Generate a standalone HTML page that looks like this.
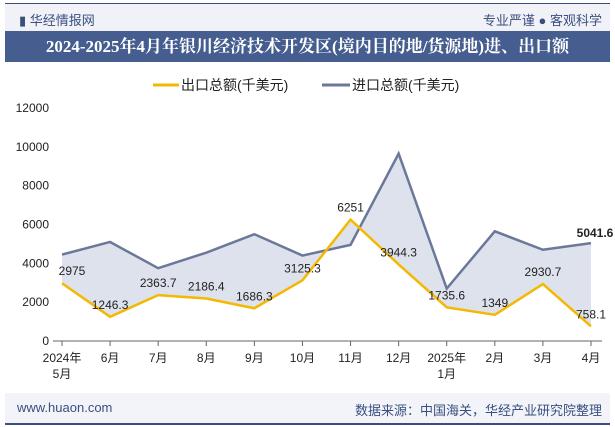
<!DOCTYPE html>
<html><head><meta charset="utf-8"><style>
body{margin:0;width:615px;height:427px;background:#fff;font-family:"Liberation Sans","Noto Sans CJK SC",sans-serif;position:relative;overflow:hidden}
.top{position:absolute;left:5px;top:3px;width:605px;height:28px;background:#f0f2f7;border-top:1px solid #3a4f80}
.title{position:absolute;left:5px;top:31px;width:605px;height:31px;background:#455d8f;color:#fff;font-weight:bold;font-size:17px;line-height:31px;text-align:center;font-family:"Liberation Serif","Noto Serif CJK SC",serif}
.foot{position:absolute;left:5px;top:393px;width:605px;height:30px;background:#f2f4f9;border-bottom:2px solid #3a4f80}
</style></head><body>
<div class="top">
<span style="position:absolute;left:14px;top:6px;font-size:13px;color:#3a4f80">▮ 华经情报网</span>
<span style="position:absolute;right:8px;top:6px;font-size:13px;color:#3a4f80">专业严谨 ● 客观科学</span></div>
<div class="title">2024-2025年4月年银川经济技术开发区(境内目的地/货源地)进、出口额</div>
<div class="foot">
<span style="position:absolute;left:12px;top:7px;font-size:13px;color:#3a4f80">www.huaon.com</span>
<span style="position:absolute;right:8px;top:7px;font-size:13px;color:#3a4f80">数据来源：中国海关，华经产业研究院整理</span></div>
<svg id="c" width="615" height="427" style="position:absolute;left:0;top:0"></svg>
<script>
const categories=["2024年\n5月","6月","7月","8月","9月","10月","11月","12月","2025年\n1月","2月","3月","4月"];
const exportVals=[2975,1246.3,2363.7,2186.4,1686.3,3125.3,6251,3944.3,1735.6,1349,2930.7,758.1];
const importVals=[4450,5100,3750,4550,5500,4400,4950,9650,2700,5650,4700,5041.6];
const yTicks=[0,2000,4000,6000,8000,10000,12000];
const NS="http://www.w3.org/2000/svg",svg=document.getElementById('c');
const x=i=>62+i*(591-62)/(categories.length-1);
const y=v=>341-v/12000*233;
function mk(t,a,p){const e=document.createElementNS(NS,t);for(const k in a)e.setAttribute(k,a[k]);(p||svg).appendChild(e);return e;}
yTicks.forEach(v=>{const t=mk('text',{x:49,y:y(v)+4,'text-anchor':'end','font-size':12,fill:'#222'});t.textContent=v;

});
const ax=mk('line',{x1:53,x2:602,y1:341,y2:341,stroke:'#666'});


categories.forEach((c,i)=>{mk('line',{x1:x(i),x2:x(i),y1:341,y2:346,stroke:'#666'});
const t=mk('text',{x:x(i),y:362,'text-anchor':'middle','font-size':12,fill:'#222'});


c.split('\n').forEach((s,j)=>{const ts=mk('tspan',{x:x(i),dy:j?16:0},t);ts.textContent=s;});});
let pts=importVals.map((v,i)=>x(i)+','+y(v)).concat(exportVals.map((v,i)=>x(i)+','+y(v)).reverse());
const area=mk('polygon',{points:pts.join(' '),fill:'#dde2ec'});


const li=mk('polyline',{points:importVals.map((v,i)=>x(i)+','+y(v)).join(' '),fill:'none',stroke:'#6b7899','stroke-width':2.5});


const le=mk('polyline',{points:exportVals.map((v,i)=>x(i)+','+y(v)).join(' '),fill:'none',stroke:'#f5b800','stroke-width':2.5});


exportVals.forEach((v,i)=>{const t=mk('text',{x:x(i)+(i==0?10:0),y:y(v)-8,'text-anchor':'middle','font-size':12,fill:'#222'});t.textContent=v;

});
const il=mk('text',{x:x(11)+4,y:y(importVals[11])-6,'text-anchor':'middle','font-size':12,'font-weight':'bold',fill:'#222'});il.textContent=importVals[11];


const lg1=mk('g',{});


mk('line',{x1:153,x2:179,y1:85,y2:85,stroke:'#f5b800','stroke-width':3},lg1);
mk('text',{x:181,y:90,'font-size':14,fill:'#222'},lg1).textContent='出口总额(千美元)';
const lg2=mk('g',{});


mk('line',{x1:322,x2:350,y1:85,y2:85,stroke:'#6b7899','stroke-width':3},lg2);
mk('text',{x:352,y:90,'font-size':14,fill:'#222'},lg2).textContent='进口总额(千美元)';
</script>
</body></html>
